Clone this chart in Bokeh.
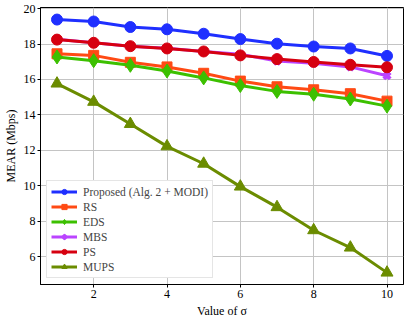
from bokeh.plotting import figure
from bokeh.models import Range1d, Legend, LegendItem, FixedTicker
from bokeh.embed import file_html
from bokeh.resources import INLINE

sigma = [1, 2, 3, 4, 5, 6, 7, 8, 9, 10]
proposed = [19.38, 19.27, 18.96, 18.83, 18.58, 18.28, 18.02, 17.86, 17.75, 17.33]
rs = [17.45, 17.36, 16.97, 16.71, 16.35, 15.91, 15.59, 15.42, 15.20, 14.78]
eds = [17.27, 17.06, 16.80, 16.48, 16.09, 15.66, 15.33, 15.17, 14.90, 14.50]
mbs = [18.27, 18.07, 17.88, 17.76, 17.58, 17.42, 17.04, 16.92, 16.71, 16.21]
ps = [18.25, 18.07, 17.88, 17.75, 17.58, 17.36, 17.15, 16.99, 16.83, 16.69]
mups = [15.77, 14.74, 13.49, 12.23, 11.25, 9.96, 8.80, 7.50, 6.52, 5.11]

FONT = "Liberation Serif"

p = figure(width=407, height=320, output_backend="svg", toolbar_location=None,
           x_range=Range1d(0.55, 10.45), y_range=Range1d(4.44, 20.06),
           min_border_left=26, min_border_right=4, min_border_top=7, min_border_bottom=30)

p.outline_line_color = "black"
p.outline_line_width = 1
p.background_fill_color = "white"
p.border_fill_color = "white"

for ax in (p.xaxis[0], p.yaxis[0]):
    ax.major_label_text_font = FONT
    ax.major_label_text_font_size = "12px"
    ax.major_label_text_color = "black"
    ax.axis_label_text_font = FONT
    ax.axis_label_text_font_size = "12px"
    ax.axis_label_text_font_style = "normal"
    ax.axis_label_text_color = "black"
    ax.minor_tick_line_color = None
    ax.major_tick_out = 3
    ax.major_tick_in = 0
    ax.major_label_standoff = 2
    ax.axis_label_standoff = 3
    ax.axis_line_color = "black"

p.xaxis.ticker = FixedTicker(ticks=[2, 4, 6, 8, 10])
p.yaxis.ticker = FixedTicker(ticks=[6, 8, 10, 12, 14, 16, 18, 20])
p.xaxis.axis_label = "Value of σ"
p.yaxis.axis_label = "MEAR (Mbps)"

p.grid.grid_line_color = "#c4c4c4"
p.grid.grid_line_width = 1

series = [
    ("Proposed (Alg. 2 + MODI)", proposed, "#1f2fff", "circle", 11),
    ("RS", rs, "#ff4a14", "square", 10),
    ("EDS", eds, "#3cc000", "diamond", 14),
    ("MBS", mbs, "#bb44ff", "x", 9),
    ("PS", ps, "#d60010", "circle", 11),
    ("MUPS", mups, "#6b8c00", "triangle", 12),
]

items = []
for name, ys, col, mk, sz in series:
    r1 = p.line(sigma, ys, line_color=col, line_width=3)
    if mk == "x":
        r2 = p.scatter(sigma, ys, marker="x", size=sz, line_color=col, line_width=4)
    else:
        r2 = p.scatter(sigma, ys, marker=mk, size=sz, fill_color=col, line_color=col)
    items.append(LegendItem(label=name, renderers=[r1, r2]))

legend = Legend(items=items, location="bottom_left")
legend.label_text_font = FONT
legend.label_text_font_size = "11.5px"
legend.label_height = 13
legend.glyph_height = 13
legend.glyph_width = 26
legend.spacing = 2
legend.padding = 4
legend.margin = 6
legend.label_standoff = 6
legend.border_line_color = "#cccccc"
legend.border_line_width = 1
legend.background_fill_alpha = 1.0
p.add_layout(legend, "center")

open("out.html", "w").write(file_html(p, INLINE))
